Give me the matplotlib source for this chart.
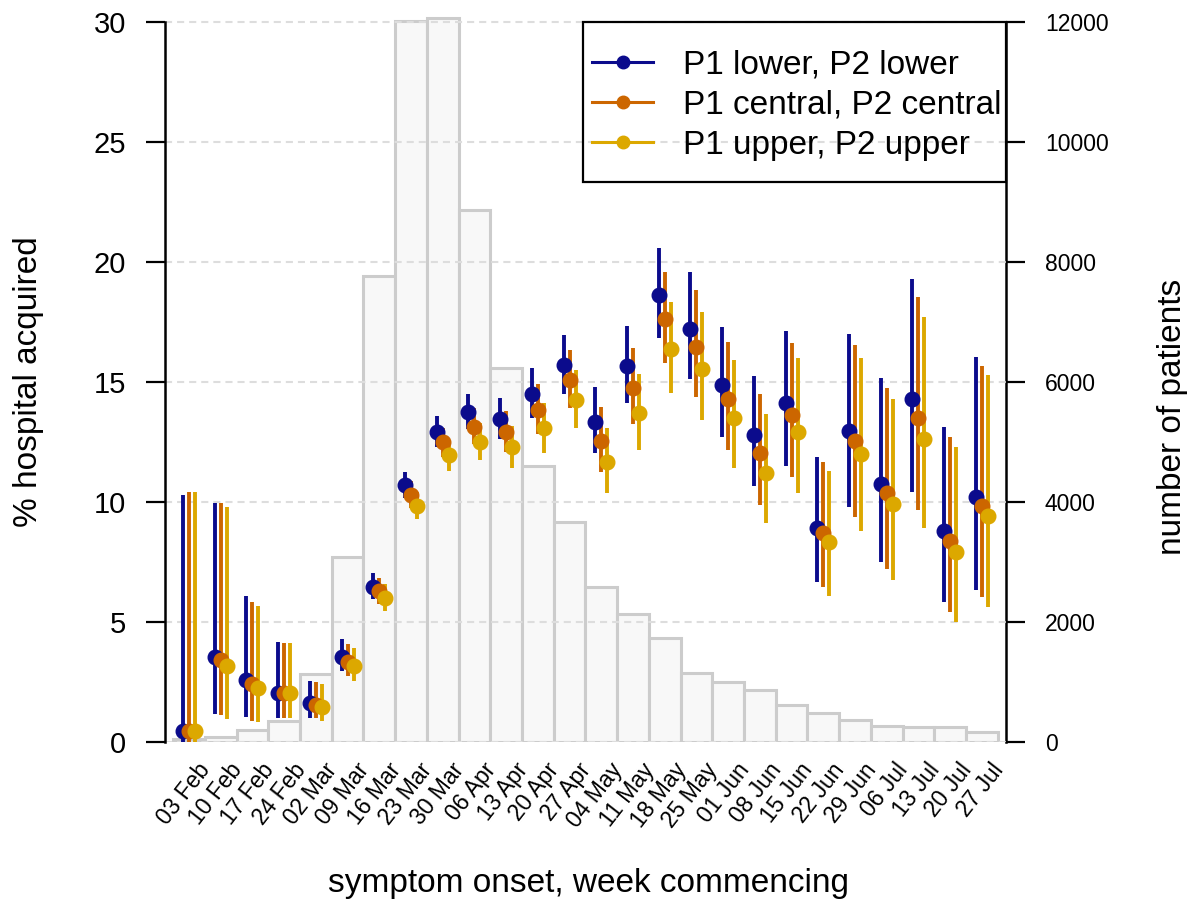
import numpy as np
import matplotlib
matplotlib.use('Agg')
import matplotlib.pyplot as plt
import matplotlib.transforms as mtransforms
from matplotlib.lines import Line2D
from matplotlib.patches import Rectangle

plt.rcParams['font.family'] = ['Liberation Sans', 'DejaVu Sans']

# week commencing labels
weeks = ['03 Feb', '10 Feb', '17 Feb', '24 Feb', '02 Mar', '09 Mar', '16 Mar', '23 Mar',
         '30 Mar', '06 Apr', '13 Apr', '20 Apr', '27 Apr', '04 May', '11 May', '18 May',
         '25 May', '01 Jun', '08 Jun', '15 Jun', '22 Jun', '29 Jun', '06 Jul', '13 Jul',
         '20 Jul', '27 Jul']

# number of patients per week (right axis)
patients = [50, 90, 200, 355, 1130, 3090, 7770, 12020, 12070, 8870, 6240, 4600, 3670,
            2590, 2130, 1730, 1150, 1000, 870, 620, 480, 360, 270, 250, 250, 170]

# % hospital acquired: P1 lower, P2 lower
lo_est = [0.46, 3.53, 2.58, 2.05, 1.61, 3.56, 6.47, 10.69, 12.93, 13.74, 13.44, 14.50, 15.71,
          13.35, 15.67, 18.63, 17.22, 14.88, 12.79, 14.11, 8.93, 12.96, 10.74, 14.29, 8.79, 10.22]
lo_lwr = [0.0, 1.15, 1.03, 0.99, 1.01, 2.96, 5.94, 10.15, 12.30, 13.03, 12.61, 13.49, 14.50,
          12.05, 14.14, 16.82, 15.13, 12.72, 10.67, 11.51, 6.65, 9.78, 7.51, 10.43, 5.82, 6.33]
lo_upr = [10.3, 9.95, 6.07, 4.18, 2.55, 4.29, 7.06, 11.26, 13.58, 14.50, 14.35, 15.60, 16.96,
          14.78, 17.33, 20.58, 19.60, 17.28, 15.26, 17.13, 11.86, 17.00, 15.15, 19.28, 13.11, 16.05]

# P1 central, P2 central
c_est = [0.45, 3.40, 2.40, 2.03, 1.55, 3.35, 6.30, 10.29, 12.49, 13.14, 12.93, 13.83, 15.08,
         12.56, 14.76, 17.63, 16.47, 14.28, 12.03, 13.63, 8.72, 12.54, 10.36, 13.51, 8.38, 9.83]
c_lwr = [0.0, 1.13, 0.89, 0.99, 0.99, 2.75, 5.75, 9.74, 11.89, 12.42, 12.10, 12.82, 13.90,
         11.26, 13.24, 15.80, 14.36, 12.17, 9.88, 11.05, 6.47, 9.36, 7.20, 9.67, 5.40, 6.03]
c_upr = [10.4, 9.95, 5.85, 4.13, 2.51, 4.08, 6.85, 10.89, 13.10, 13.93, 13.80, 14.90, 16.33,
         13.97, 16.40, 19.60, 18.83, 16.68, 14.50, 16.64, 11.65, 16.54, 14.74, 18.53, 12.70, 15.67]

# P1 upper, P2 upper
u_est = [0.45, 3.17, 2.24, 2.03, 1.47, 3.18, 5.99, 9.85, 11.95, 12.50, 12.28, 13.07, 14.25,
         11.67, 13.69, 16.38, 15.54, 13.49, 11.19, 12.93, 8.35, 11.99, 9.90, 12.63, 7.93, 9.42]
u_lwr = [0.0, 0.96, 0.85, 0.99, 0.89, 2.54, 5.46, 9.29, 11.30, 11.75, 11.43, 12.05, 13.10,
         10.39, 12.17, 14.55, 13.42, 11.40, 9.11, 10.39, 6.10, 8.80, 6.75, 8.90, 5.01, 5.61]
u_upr = [10.4, 9.80, 5.67, 4.13, 2.40, 3.90, 6.57, 10.40, 12.54, 13.28, 13.17, 14.11, 15.50,
         13.07, 15.33, 18.35, 17.90, 15.92, 13.65, 15.99, 11.29, 15.99, 14.29, 17.70, 12.31, 15.29]

series = [
    ('P1 lower, P2 lower', '#0b0b8c', lo_est, lo_lwr, lo_upr, -0.19),
    ('P1 central, P2 central', '#cc6600', c_est, c_lwr, c_upr, 0.0),
    ('P1 upper, P2 upper', '#dca800', u_est, u_lwr, u_upr, 0.19),
]

x = np.arange(len(weeks))

fig = plt.figure(figsize=(11.89, 9.01), dpi=100)
ax = fig.add_axes([165 / 1189, 1 - 742 / 901, 841 / 1189, 732 / 901])
ax2 = ax.twinx()

# bars: number of patients
ax2.bar(x, patients, width=1.0, color='#f8f8f8', edgecolor='#cccccc', linewidth=2.2)
ax2.set_ylim(0, 12200)
ax2.set_yticks(np.arange(0, 12001, 2000))
ax2.tick_params(axis='y', labelsize=16.5, length=14, width=1.6, pad=14)
ax2.spines['right'].set_bounds(0, 12000)
ax2.spines['right'].set_linewidth(1.8)
for s in ['top', 'bottom', 'left']:
    ax2.spines[s].set_visible(False)
ax2.set_ylabel('number of patients', fontsize=24, rotation=90)
ax2.yaxis.set_label_coords(1.18, 0.444)

# points with intervals
ax.set_zorder(ax2.get_zorder() + 1)
ax.patch.set_visible(False)
ax.yaxis.grid(True, linestyle=(0, (3.4, 2.4)), color='#dddddd', linewidth=1.5)
ax.set_axisbelow(True)
for name, col, est, lwr, upr, off in series:
    est = np.array(est)
    yerr = [est - np.array(lwr), np.array(upr) - est]
    ax.errorbar(x + off, est, yerr=yerr, fmt='o', color=col, ms=10.5,
                elinewidth=2.8, capsize=0, zorder=3)

ax.set_xlim(-0.757, 25.76)
ax.set_ylim(0, 30.5)
ax.set_yticks(np.arange(0, 31, 5))
ax.tick_params(axis='y', labelsize=21, length=14, width=1.6, pad=14)
ax.spines['left'].set_bounds(0, 30)
ax.spines['left'].set_linewidth(1.8)
for s in ['top', 'bottom', 'right']:
    ax.spines[s].set_visible(False)

ax.set_xticks(x)
ax.set_xticklabels(weeks, rotation=52, ha='right', va='top', rotation_mode='anchor',
                   fontsize=16.5)
ax.tick_params(axis='x', length=0, pad=12)
offset = mtransforms.ScaledTranslation(8 / 100, 0, fig.dpi_scale_trans)
for lbl in ax.get_xticklabels():
    lbl.set_transform(lbl.get_transform() + offset)

ax.set_ylabel('% hospital acquired', fontsize=24)
ax.yaxis.set_label_coords(-0.1439, 0.492)
ax.set_xlabel('symptom onset, week commencing', fontsize=24)
ax.xaxis.set_label_coords(0.503, -0.172)

# legend (frame drawn separately to get the taller padding)
handles = [Line2D([], [], color=col, marker='o', ms=9, lw=2.2) for _, col, *_ in series]
labels = [s[0] for s in series]
leg = ax.legend(handles, labels, loc='upper left',
                bbox_to_anchor=(592 / 1189, 1 - 50 / 901), bbox_transform=fig.transFigure,
                borderaxespad=0, borderpad=0, fontsize=24, frameon=False,
                handlelength=1.83, handletextpad=0.9, labelspacing=0.27)
fig.patches.append(Rectangle((583 / 1189, 1 - 182 / 901), 423 / 1189, 160 / 901,
                             transform=fig.transFigure, fill=False, edgecolor='black',
                             linewidth=1.6, zorder=10))

fig.savefig('out.png', dpi=100)
